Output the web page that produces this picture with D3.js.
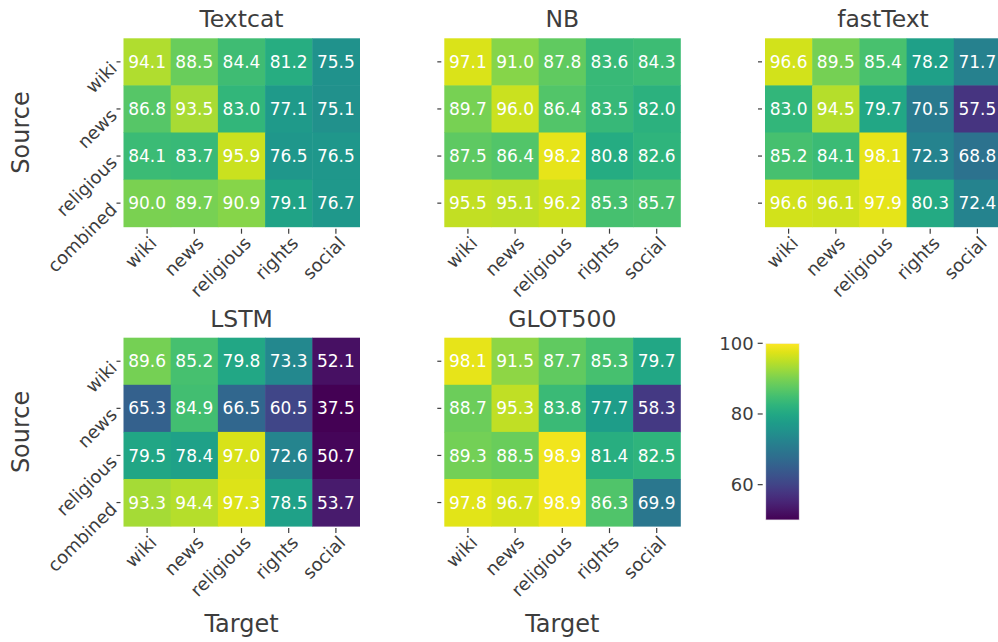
<!DOCTYPE html>
<html>
<head>
<meta charset="utf-8">
<script src="https://cdn.jsdelivr.net/npm/d3@7"></script>
<style>
  body { margin: 0; background: #fff; }
  svg text { font-family: "DejaVu Sans", sans-serif; }
</style>
</head>
<body>
<div id="wrapper"></div>
<script>
// row / column labels
const sources = ["wiki", "news", "religious", "combined"]
const targets = ["wiki", "news", "religious", "rights", "social"]

// one matrix per model, rows = source, cols = target
const textcat = [[94.1, 88.5, 84.4, 81.2, 75.5], [86.8, 93.5, 83.0, 77.1, 75.1], [84.1, 83.7, 95.9, 76.5, 76.5], [90.0, 89.7, 90.9, 79.1, 76.7]]
const nb = [[97.1, 91.0, 87.8, 83.6, 84.3], [89.7, 96.0, 86.4, 83.5, 82.0], [87.5, 86.4, 98.2, 80.8, 82.6], [95.5, 95.1, 96.2, 85.3, 85.7]]
const fasttext = [[96.6, 89.5, 85.4, 78.2, 71.7], [83.0, 94.5, 79.7, 70.5, 57.5], [85.2, 84.1, 98.1, 72.3, 68.8], [96.6, 96.1, 97.9, 80.3, 72.4]]
const lstm = [[89.6, 85.2, 79.8, 73.3, 52.1], [65.3, 84.9, 66.5, 60.5, 37.5], [79.5, 78.4, 97.0, 72.6, 50.7], [93.3, 94.4, 97.3, 78.5, 53.7]]
const glot500 = [[98.1, 91.5, 87.7, 85.3, 79.7], [88.7, 95.3, 83.8, 77.7, 58.3], [89.3, 88.5, 98.9, 81.4, 82.5], [97.8, 96.7, 98.9, 86.3, 69.9]]

const models = ["Textcat", "NB", "fastText", "LSTM", "GLOT500"]
const matrices = [textcat, nb, fasttext, lstm, glot500]
const colorTicks = [60, 80, 100]

const width = 998
const height = 642
const textColor = "#3d3d3d"

// panel grid
const panelWidth = 236
const panelHeight = 188.4
const colLefts = [123.5, 444.3, 765]
const rowTops = [38.3, 337.7]

const color = d3.scaleSequential(d3.interpolateViridis).domain([50, 100]).clamp(true)

const svg = d3.select("#wrapper")
  .append("svg")
    .attr("width", width)
    .attr("height", height)

const xScale = d3.scaleBand().domain(targets).range([0, panelWidth])
const yScale = d3.scaleBand().domain(sources).range([0, panelHeight])

matrices.forEach((matrix, i) => {
  const col = i % 3
  const row = Math.floor(i / 3)
  const g = svg.append("g")
    .attr("transform", `translate(${colLefts[col]},${rowTops[row]})`)

  const cells = matrix.flatMap((r, ri) => r.map((v, ci) => ({ source: sources[ri], target: targets[ci], value: v })))

  g.selectAll("rect.cell")
    .data(cells)
    .join("rect")
      .attr("class", "cell")
      .attr("x", d => xScale(d.target))
      .attr("y", d => yScale(d.source))
      .attr("width", xScale.bandwidth() + 0.5)
      .attr("height", yScale.bandwidth() + 0.5)
      .attr("fill", d => color(d.value))

  g.selectAll("text.val")
    .data(cells)
    .join("text")
      .attr("class", "val")
      .attr("x", d => xScale(d.target) + xScale.bandwidth() / 2)
      .attr("y", d => yScale(d.source) + yScale.bandwidth() / 2)
      .attr("dy", "0.36em")
      .attr("text-anchor", "middle")
      .attr("font-size", 17)
      .attr("fill", "#fff")
      .text(d => d.value.toFixed(1))

  // title
  g.append("text")
    .attr("x", panelWidth / 2)
    .attr("y", -11)
    .attr("text-anchor", "middle")
    .attr("font-size", 23.5)
    .attr("fill", textColor)
    .text(models[i])

  // x ticks + labels
  const xt = g.selectAll("g.xt")
    .data(targets)
    .join("g")
      .attr("class", "xt")
      .attr("transform", d => `translate(${xScale(d) + xScale.bandwidth() / 2},${panelHeight})`)
  xt.append("line")
    .attr("y1", 2).attr("y2", 7)
    .attr("stroke", textColor).attr("stroke-width", 1.2)
  xt.append("text")
    .attr("transform", "translate(6,13) rotate(-45)")
    .attr("text-anchor", "end")
    .attr("dy", "0.36em")
    .attr("font-size", 18)
    .attr("fill", textColor)
    .text(d => d)

  // y ticks (labels only on the first column)
  const yt = g.selectAll("g.yt")
    .data(sources)
    .join("g")
      .attr("class", "yt")
      .attr("transform", d => `translate(0,${yScale(d) + yScale.bandwidth() / 2})`)
  yt.append("line")
    .attr("x1", -7).attr("x2", -3)
    .attr("stroke", textColor).attr("stroke-width", 1.2)
  if (col === 0) {
    yt.append("text")
      .attr("transform", "translate(-10,3) rotate(-45)")
      .attr("text-anchor", "end")
      .attr("dy", "0.36em")
      .attr("font-size", 18)
      .attr("fill", textColor)
      .text(d => d)

    g.append("text")
      .attr("transform", `translate(${20 - colLefts[0]},${panelHeight / 2}) rotate(-90)`)
      .attr("text-anchor", "middle")
      .attr("dy", "0.36em")
      .attr("font-size", 24)
      .attr("fill", textColor)
      .text("Source")
  }
  if (row === 1) {
    g.append("text")
      .attr("x", panelWidth / 2)
      .attr("y", 632 - rowTops[1])
      .attr("text-anchor", "middle")
      .attr("font-size", 24)
      .attr("fill", textColor)
      .text("Target")
  }
})

// colorbar
const cbX = 765.7
const cbW = 33.6
const cbTop = 343.3
const cbBottom = 520
const cbScale = d3.scaleLinear().domain([50, 100]).range([cbBottom, cbTop])

const defs = svg.append("defs")
const grad = defs.append("linearGradient")
  .attr("id", "cbgrad")
  .attr("x1", 0).attr("y1", 1).attr("x2", 0).attr("y2", 0)
d3.range(0, 1.0001, 0.05).forEach(t => {
  grad.append("stop").attr("offset", t).attr("stop-color", d3.interpolateViridis(t))
})
svg.append("rect")
  .attr("x", cbX)
  .attr("y", cbTop)
  .attr("width", cbW)
  .attr("height", cbBottom - cbTop)
  .attr("fill", "url(#cbgrad)")
  .attr("stroke", "#f2f2f2")
  .attr("stroke-width", 0.8)

const cbt = svg.selectAll("g.cbt")
  .data(colorTicks)
  .join("g")
    .attr("class", "cbt")
    .attr("transform", d => `translate(${cbX},${cbScale(d)})`)
cbt.append("line")
  .attr("x1", -8).attr("x2", -3)
  .attr("stroke", textColor).attr("stroke-width", 1.2)
cbt.append("text")
  .attr("x", -12)
  .attr("dy", "0.36em")
  .attr("text-anchor", "end")
  .attr("font-size", 18)
  .attr("fill", textColor)
  .text(d => d)
</script>
</body>
</html>
